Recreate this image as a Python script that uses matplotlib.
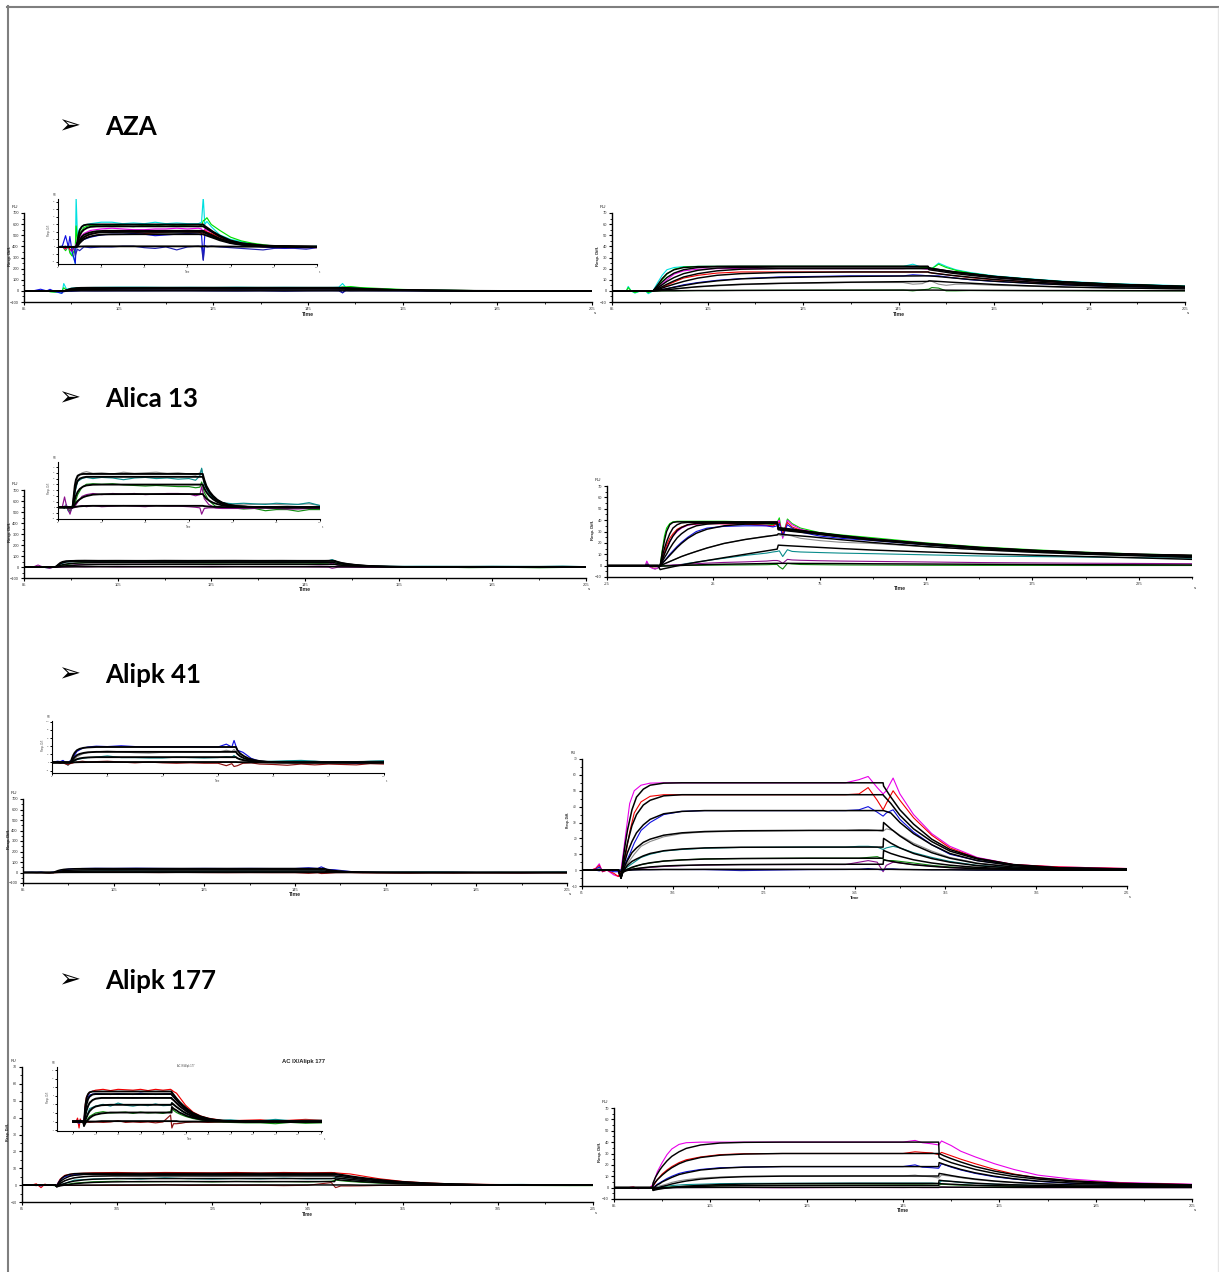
import matplotlib
matplotlib.use("Agg")
import matplotlib.pyplot as plt
from matplotlib.lines import Line2D

W, H = 1219, 1272
CY, GR, MG, RD, BL = '#00e0e0', '#00e000', '#e800e8', '#f00000', '#1010e0'
DB, GY, TL, PU, DG, MR = '#2020b0', '#8c8c8c', '#0a8c8c', '#8c108c', '#108c10', '#8c1010'

headings = ["AZA", "Alica 13", "Alipk 41", "Alipk 177"]
heading_y = [125, 397, 673, 979]
x_tick_labels = ["85", "105", "125", "145", "165", "185", "205"]
x_ticks = [85, 105, 125, 145, 165, 185, 205]
y_ticks_big = [-100, 0, 100, 200, 300, 400, 500, 600, 700]
y_ticks_small = [-10, 0, 10, 20, 30, 40, 50, 60, 70]
x_ticks_r2 = [-25, 25, 75, 125, 175, 225]

# ---- AZA, left
t_aza_l = [85,93.5,94,94.5,95,96,97,98.5,100,103,107,120,140,152.3,153,155,157,160,165,170,180,195,205]
fit_aza_l = [
 [0,0,8,16,22,27,29,29.8,30,30,30,30,30,30,28,24,20,15,8.5,5,1.8,.5,.2],
 [0,0,5,10,15,20,23,25.5,26.8,27.4,27.5,27.5,27.5,27.5,26,22.5,19,14,8,4.7,1.7,.5,.2],
 [0,0,3,6,9,13.5,16,18,19.5,21,21.5,21.5,21.5,21.5,20,17.5,15,11,6.3,3.7,1.3,.4,.2],
 [0,0,2,4.5,7,10.5,13,15.5,17,19,19.8,20,20,20,18.8,16.5,14,10.3,5.8,3.4,1.2,.4,.2],
 [0,0,1.5,3,5,8,10.5,12.5,14,15.8,16.7,17,17,17,16,14,12,8.8,5,2.9,1,.3,.1],
 [0,0,.2,.4,.5,.6,.7,.8,.8,.8,.8,.8,.8,.8,.8,.7,.7,.6,.5,.4,.3,.2,.1],
]
tn_aza_l = [85,87,88.5,89.8,90.5,91.5,92.3,93,93.4,94,95,97,100,105,110,115,120,125,130,135,140,145,150,151.5,152.3,153,154,156,160,165,170,175,180,185,190,195,200,205]
raw_aza_l = [
 (CY,[0,0,-3,3,-6,-10,-15,-22,66,14,24,29,31,33,33,31,32,31,33,31,32,31,31,33,66,30,34,27,16,10,7,4,1,0,-1,0,0,1]),
 (GR,[0,1,-5,1,-8,-12,-6,-3,28,8,18,26,29,28,29,28,27,29,28,30,28,29,30,28,35,36,39,30,22,13,8,5,3,1,0,0,-1,0]),
 (MG,[0,0,-3,1,-4,-6,-2,-1,4,6,12,18,22,24,25,24,23,23,24,24,25,24,25,24,20,24,22,20,14,7,5,3,1,0,-1,-1,0,0]),
 (RD,[0,0,-2,2,-3,-5,-1,0,2,4,8,13,17,20,21,21,20,18,19,20,21,20,20,18,16,22,20,18,13,6,4,2,0,-1,-2,-1,-1,-1]),
 (BL,[0,1,15,0,14,-6,-14,-22,2,3,6,10,13,16,17,17,18,17,15,16,17,18,17,16,-17,16,16,14,10,5,3,1,0,-1,-2,-1,-1,0]),
 (DB,[0,0,1,-1,1,-2,0,-12,-8,-3,-5,0,-1,0,0,1,1,-1,-2,0,-4,0,1,0,-18,2,0,1,0,-1,-2,-3,-4,-2,-1,-2,-3,-1]),
]

# ---- AZA, right
t_aza_r = [85,93,93.6,94.5,95.5,96.5,98,100,103,107,112,120,135,151.2,151.4,153,156,160,165,172,180,190,205]
fit_aza_r = [
 [0,0,0,5,11,15.5,19,21,21.8,22,22,22,22,22,20.5,19.5,17.5,15.5,13,10.5,8,6,4],
 [0,0,0,3.5,8,12,16,19,21,21.8,22,22,22,22,20.5,19.5,17.5,15.5,13,10.5,8,6,4],
 [0,0,0,2.5,5.5,8.5,12,15.5,18.5,20.5,21,21.5,21.5,21.5,20,19,17,15,12.5,10,7.8,5.8,3.8],
 [0,0,0,1.7,3.8,6,9,12.5,15.5,18,19.5,20,20,20,19,18,16,14,11.8,9.5,7.3,5.5,3.6],
 [0,0,0,1,2.5,4,6,8.5,11.5,14,15.5,16.5,17,17,16.5,15.5,14,12.3,10.3,8.2,6.3,4.8,3.2],
 [0,0,0,.5,1.2,2,3.2,4.8,7,9,10.8,12,13,13.5,13.5,13,11.8,10.3,8.7,7,5.4,4,2.7],
 [0,0,0,.2,.6,1,1.7,2.6,3.8,4.9,5.9,6.8,7.8,8.5,9,8.6,7.8,6.9,5.8,4.6,3.5,2.7,1.8],
 [0,0,0,0,.1,.1,.1,.2,.3,.3,.4,.5,.6,.7,.7,.7,.6,.5,.4,.3,.3,.2,.1],
]
tn_aza_r = [85,88,88.4,89,89.8,91,92,92.6,93.6,94.5,95.5,96.5,98,100,103,107,112,120,135,146,148,150,151.3,152,153.4,155,157,160,165,172,180,190,205]
raw_aza_r = [
 (CY,[0,0,4,0,-2,0,0,-2.5,0,7,14,19,21,21.8,22,22,22,22,22,22,24,21,21,20,25,22,19,16.5,13.5,11,8.5,6.5,4.5]),
 (GR,[0,0,3,0,-1.5,0,0,-1.5,0,4,10,15,19.5,21.5,22,22,22,22,22,22,22,21,21,20,24,21,18.5,16,13,10.5,8,6,4]),
 (MG,[0,0,.5,0,0,0,0,0,0,2.5,6,10,15,18,19.5,20,20,20,20,20,20.5,20,19.5,19,19,18,16.5,14.5,12,9.5,7.5,5.5,3.6]),
 (RD,[0,0,0,0,0,0,0,0,0,1.2,3,5,8,11.5,14,16,17,17,17,17,17,17,17,16,15.5,14.5,13.5,12,10,8,6.2,4.7,3.2]),
 (BL,[0,0,0,0,0,0,0,0,0,.5,1.2,2,3.5,5.5,7.5,9.5,11,12.5,13.5,13.5,14.5,14,13.5,13.5,13.5,12.5,11.5,10,8.5,7,5.4,4,2.7]),
 (GY,[0,0,0,0,0,0,0,0,0,.2,.5,1,1.5,2.5,3.5,4.5,5.5,6.5,7.5,7.5,6,6.5,9,8.5,6,5,6,6,5,4.2,3.2,2.5,1.7]),
 (DG,[0,0,0,0,0,0,0,0,0,0,0,.1,.1,.2,.3,.3,.4,.5,.6,.7,0,1,1.5,3,2.5,0,0,.3,.3,.3,.2,.1,.1]),
]

# ---- Alica 13, left
t_ali_l = [85,91.7,92.2,92.7,93.2,94,95,96.5,98,101,105,120,140,151.3,152,153,154.5,156,158,160,163,167,172,180,205]
fit_ali_l = [
 [0,0,20,38,48,55,57,58,58,58,58,58,58,58,48,37,27,20,13,8.5,4.5,2,.7,.2,0],
 [0,0,15,28,38,46,50,52,53,53,53,53,53,53,44,34,25,18,12,8,4,1.8,.6,.2,0],
 [0,0,7,14,20,27,32,36,38,39.3,39.5,39.5,39.5,39.5,33,26,19,14,9,6,3,1.4,.5,.1,0],
 [0,0,2.5,5,7.5,11,14,17.5,19.5,22,22.8,23,23,23,19.5,15,11,8,5.5,3.6,1.8,.8,.3,.1,0],
 [0,0,.3,.6,.9,1.3,1.7,2.1,2.3,2.5,2.5,2.5,2.5,2.5,2,1.6,1.2,.9,.6,.4,.2,.1,0,0,0],
]
tn_ali_l = [85,87,88,88.8,89.6,90.5,91.2,92.2,93,94,96,98,101,105,110,115,120,125,130,135,140,145,148,150,150.8,152,154,157,160,165,170,175,180,185,190,195,200,205]
raw_ali_l = [
 (GY,[0,0,1,0,-1,-4,-2,14,38,52,60,62,59,60,58,61,59,60,61,59,60,58,56,60,66,42,28,14,8,5,4,5,6,5,4,5,6,3]),
 (TL,[0,0,-2,5,-6,-9,-3,10,30,45,50,52,50,52,51,48,51,52,50,51,49,50,47,55,68,40,24,12,8,6,7,6,5,7,6,5,8,3]),
 (DG,[0,0,-1,1,-4,-6,-2,2,10,22,35,40,41,40,41,39,38,37,38,37,36,36,34,35,44,26,12,2,0,-1,-3,-2,-6,-4,-4,-7,-4,-4]),
 (PU,[0,1,18,4,-4,-12,-2,0,3,9,19,22,24,22,24,23,24,22,23,24,24,23,20,22,36,15,5,-1,-2,-2,-2,-2,-1,-2,-3,-3,-2,-2]),
 (PU,[0,0,2,1,-1,-3,-1,-1,0,1,3,1,3,1,2,3,2,1,3,2,2,1,0,-1,-12,-2,-1,-1,-2,-2,-2,-1,-1,-2,-2,-1,-2,-2]),
]

# ---- Alica 13, right
t_ali_r = [-25,-1,0,1,2,3,4.5,6,8,10,13,17,22,30,40,55,55.5,60,70,85,100,125,150,175,200,225,250]
fit_ali_r = [
 [0,0,0,12,22,30,36,38,38.5,38.5,38.5,38.5,38.5,38.5,38.5,38.5,33.4,32.5,30,26.5,23.5,19.5,16,13.5,11.5,10,9],
 [0,0,0,8,15,21,28,33,36,37.5,38,38,38,38,38,38,33,32,29.8,26.2,23.2,19.2,15.8,13.3,11.3,9.8,8.8],
 [0,0,0,5,10,14.5,21,26,31,33.5,36,37,37.5,37.5,37.5,37.5,32.5,31.5,29.5,26,23,19,15.6,13.1,11.1,9.6,8.6],
 [0,0,0,3.5,7,10,15,19.5,24.5,28,32,35,36.5,37.5,37.5,37.5,32,31,29,25.5,22.7,18.7,15.3,12.9,10.9,9.4,8.4],
 [0,0,0,2,4,6,9,12,16,19.5,24,28.5,32,35,36.5,37,31.5,30.5,28.5,25.2,22.3,18.4,15,12.6,10.7,9.2,8.2],
 [0,0,0,.8,1.6,2.4,3.6,4.8,6.4,8,10,12.5,15.5,19.5,23,27,28,27,25.5,22.8,20.3,16.8,14,11.8,10,8.6,7.2],
 [0,0,-3.5,-3,-2.6,-2.2,-1.6,-1,-.2,.5,1.6,3,4.5,7,10,14.5,18,17.5,16.5,15,13.7,12,10.5,9.2,8,6.8,5.5],
 [0,0,-.5,-.4,-.4,-.3,-.2,0,.1,.2,.4,.6,.9,1.2,1.5,2,2,2,1.9,1.8,1.6,1.4,1.2,1,.8,.7,.6],
]
tn_ali_r = [-25,-10,-7,-6.3,-5,-3.5,-2.4,-1,0,1,2,3,4.5,6,8,10,13,17,22,30,40,50,53,55,56,57.6,59.8,62,66,75,85,100,125,150,175,200,225,250]
raw_ali_r = [
 (GR,[0,0,0,3,-1,-2,-3,-2,0,14,26,33,37,38.5,39,39,39,39,39,39,38.5,37,36,38,42,25,41,37,33,29,27,24.5,20,16.5,14,11.8,10.2,9.2]),
 (MG,[0,0,0,4,-1,-2.5,-3,-2,0,6,11,16,21,26,30,33,35.5,36.5,37,36.8,36.5,35,34.5,38,40,24,40,36,32,28,26,23.5,19.5,16,13.5,11.5,10,9]),
 (RD,[0,0,0,1,-.5,-1,-1,-.5,0,5,11,18,24,28,32,34,36,36.8,37,36.8,36.5,35.5,35,37,38,28,38,34,31,27.5,25.5,23,19,15.6,13.2,11.2,9.8,8.8]),
 (BL,[0,0,0,1,0,-.5,-.5,0,0,2,4,6.5,10,13,17,20.5,25,30,33,34.5,35,35,34,35,37,26,36,33,29.5,26,24,22,18.3,15,12.6,10.7,9.2,8.2]),
 (GY,[0,0,0,0,0,0,0,0,0,.8,1.6,2.4,3.6,4.8,6.4,8,10,12.5,15.5,19.5,23,26,26.5,27,27,26,27,26,24,22,20.5,19.5,16.5,14,11.8,10,8.6,7.2]),
 (TL,[0,0,0,0,0,0,0,0,0,0,0,0,0,.2,.5,1,2,3,4.5,6.5,9,11,12,12.5,13,8,14,12.5,12,11.5,11,10.5,9.5,8.5,8,7.5,7,6.5]),
 (PU,[0,0,0,.5,0,-.5,-1,-1,-.5,0,.2,.3,.4,.6,.8,1,1.3,1.7,2.2,2.8,3.3,4,4.5,4.5,4,2,5.5,5,4.7,4.3,4,3.7,3.2,2.7,2.4,2.1,1.9,1.7]),
 (DG,[0,0,0,0,0,0,0,0,0,0,0,0,0,0,.1,.1,.2,.3,.4,.5,.6,.8,1,1,-1,-3,2,1.5,1,.8,.6,.5,.3,.2,.2,.1,.1,.1]),
]

# ---- Alipk 41, left
t_a41_l = [85,91.7,92.2,92.7,93.2,94,95,96.5,98,101,105,120,140,151.5,152,153,154.5,156,158,160,163,167,172,180,205]
fit_a41_l = [
 [0,0,10,18,24,30,33.5,36,37,38,38,38,38,38,30,22,15,10,6,3.5,1.5,.5,.1,0,0],
 [0,0,5,9,13,18,21,23.5,25,26,26,26,26,26,21,15,10,7,4,2.4,1,.3,.1,0,0],
 [0,0,2,4,5.5,8,10,11.5,12.3,13,13,13,13,13,10.5,7.5,5,3.5,2,1.2,.5,.2,0,0,0],
 [0,0,.1,.2,.3,.5,.7,.8,.9,1,1,1,1,1,.8,.6,.4,.3,.2,.1,0,0,0,0,0],
]
tn_a41_l = [85,87,88,89,90,90.8,91.5,92.3,93,94,96,98,101,105,110,115,120,125,130,135,140,145,148,150,150.8,152,154,157,160,165,170,175,180,185,190,195,200,205]
raw_a41_l = [
 (BL,[0,3,2,5,-1,-2,4,3,16,27,35,38,40,39,41,39,38,39,38,39,38,38,45,38,54,30,25,10,3,1,1,2,2,0,0,-2,0,1]),
 (GY,[0,0,0,0,0,0,0,0,7,14,21,24,26,28,26,24,23,25,26,25,26,25,30,27,32,22,16,6,2,1,3,2,3,0,1,2,3,4]),
 (TL,[0,1,0,1,-3,-7,1,0,3,7,10,12,13,16,12,12,11,11,13,12,11,12,14,13,17,10,7,3,2,3,4,5,3,1,2,1,3,4]),
 (MR,[0,0,-2,-1,-4,-6,-3,-2,0,1,3,1,2,3,1,-1,1,-1,-2,-1,-2,-2,-8,-3,-10,-8,-2,-1,-4,-5,-7,-4,-6,-4,-5,-6,-3,-4]),
]

# ---- Alipk 41, right
t_a41_r = [85,93,93.6,94,94.5,95,96,97,98.5,100,103,107,112,120,135,151.3,151.4,153,155,158,162,166,172,180,190,205]
fit_a41_r = [
 [0,0,-5,6,16,25,38,46,51,53.5,54.8,55,55,55,55,55,53,46,38,29,19.5,13,7.5,3.5,1.5,.7],
 [0,0,-5,3,10,17,28,35,41,44,46.8,47.5,47.5,47.5,47.5,47.5,47,42,34.5,26,18,12,7,3.2,1.3,.6],
 [0,0,-5,1,6,11,18,23.5,28.5,32,35.5,37,37.5,37.5,37.5,37.5,37.5,36,30,23,16,10.5,6,2.8,1.2,.5],
 [0,0,-5,-.5,3,6,11,14,17.5,19.5,22,23.5,24.3,24.8,25,25,30,26,21.5,16,11,7.5,4.2,2,.9,.4],
 [0,0,-5,-1,1,3,5.5,7,9,10.5,12.2,13.3,14,14.4,14.5,14.5,20,17,14,10.5,7.3,5,2.8,1.3,.6,.3],
 [0,0,-4,-1.5,-.5,.5,1.8,2.7,3.8,4.6,5.7,6.4,7,7.3,7.5,7.5,12.4,10.5,8.7,6.5,4.5,3.1,1.7,.8,.4,.2],
 [0,0,-3,-1.2,-.6,-.2,.5,1,1.5,2,2.6,3,3.3,3.5,3.7,3.7,6.5,5.6,4.6,3.4,2.4,1.6,.9,.4,.2,.1],
 [0,0,-1,-.4,-.2,0,.1,.2,.3,.3,.4,.4,.5,.5,.5,.5,.5,.5,.4,.3,.2,.2,.1,.1,0,0],
]
tn_a41_r = [85,87,88,88.8,89.5,90.5,92,93,93.6,94.5,95.5,96.5,98,100,103,107,112,120,135,143,146,148,150,151.3,152,153.5,155,158,162,166,172,180,190,205]
raw_a41_r = [
 (MG,[0,0,1,4,-1,0,-3,-4,0,20,42,50,53.5,54.8,55,55,55,55,55,55,57,59,52,48,50,58,48,35,23,15,8,3.5,2,1]),
 (RD,[0,0,1,3,-1,0,-2,-4,0,8,24,36,43,46.5,47.5,47.5,47.5,47.5,47.5,47.5,48,52,44,38,42,50,44,33,22,14,7.5,3.5,2,1]),
 (BL,[0,0,.5,2,-.5,0,-1,-1,0,4,10,17,25,30,35,37,37.5,37.5,37.5,37.5,38,40,36.5,34,36,38,32,24,16,10,6,3,1.5,.8]),
 (GY,[0,0,0,1,0,0,0,0,0,2,6,10,15,18,21,23,24,24.5,25,25,25.5,25.5,25,24.5,26,25,22,17,12,8,4.5,2.2,1,.7]),
 (TL,[0,0,0,.5,0,0,0,0,0,1,3,5,8,10,12,13,13.8,14.3,14.5,14.5,15,15,14.5,13,14,15,14,11,8,5.5,3,1.5,.8,.5]),
 (DG,[0,0,0,0,0,0,0,0,0,.3,1,2,3.5,4.5,5.7,6.5,7,7.3,7.5,7.5,7.5,8,8.5,7,6,6,5.5,4.5,3,2,1.2,.6,.3,.2]),
 (PU,[0,0,0,0,0,0,0,0,0,0,.4,.8,1.2,1.7,2.3,2.8,3.2,3.5,3.5,3.5,5,6,5,-1,3,5,4.5,3.5,2.5,1.6,1,.5,.2,.1]),
 (DB,[0,0,0,-.5,0,0,0,0,0,0,0,.2,.3,.3,.4,.4,.3,-.3,.3,.4,.5,1,.5,0,.8,.8,.5,.4,.3,.3,0,0,0,0]),
]

# ---- Alipk 177, left
t_a177_l = [85,92,92.3,92.8,93.3,94,95,96,98,100,104,110,125,150.7,150.9,152,154,156,158,161,165,170,176,185,205,251]
fit_a177_l = [
 [0,0,-.5,2,4,5.5,6.4,6.8,7,7,7,7,7,7,6.8,6.3,5.4,4.6,3.9,3,2,1.2,.6,.15,0,0],
 [0,0,-.7,1,2.7,4,5.2,5.8,6.3,6.4,6.4,6.4,6.4,6.4,6.2,5.8,5,4.2,3.6,2.7,1.8,1.1,.5,.1,0,0],
 [0,0,-.8,.3,1.5,2.6,3.6,4.3,5,5.3,5.5,5.5,5.5,5.5,5.3,5,4.3,3.6,3.1,2.3,1.5,.9,.4,.1,0,0],
 [0,0,-1,-.3,.4,1,1.8,2.4,3.1,3.5,3.8,3.9,3.9,3.9,4.3,4,3.4,2.9,2.4,1.8,1.2,.7,.3,.1,0,0],
 [0,0,-1,-.6,-.3,0,.4,.8,1.3,1.6,1.9,2.1,2.1,2.1,3.4,3,2.6,2.1,1.8,1.3,.9,.5,.2,.1,0,0],
 [0,0,-.1,-.1,0,0,0,0,0,0,.1,.1,.1,.1,.1,.1,.1,0,0,0,0,0,0,0,0,0],
]
tn_a177_l = [85,87,88,89,89.8,90.5,91,92.3,93,94,96,100,105,110,115,120,125,130,135,140,145,150,150.9,152,154,157,160,165,170,175,180,190,200,210,220,230,240,251]
raw_a177_l = [
 (RD,[0,0,.8,-1.5,.6,0,0,0,3.5,5.8,6.8,7.3,7.5,7.2,7.5,7.4,7.3,7.5,7.2,7.5,7.3,7.5,7.3,7,6.6,5.2,3.8,2.2,1.3,.8,.5,.2,.3,.4,.1,.3,.5,.3]),
 (BL,[0,0,.3,-.5,.3,0,0,0,3,5,6.2,6.5,6.4,6.3,6.5,6.4,6.3,6.6,6.4,6.3,6.4,6.5,6.2,5.8,5,3.8,2.9,1.6,.8,.3,0,0,-.2,0,.1,-.1,0,.1]),
 (GY,[0,0,0,-.3,0,0,0,0,1,2.6,4.5,5.4,5.5,5.5,5.6,5.5,5.4,5.5,5.6,5.5,5.5,5.5,5.3,5,4.3,3.2,2.5,1.5,.9,.4,.1,0,0,0,0,0,0,0]),
 (TL,[0,0,.2,-.2,0,0,0,-.3,.2,1,3,3.6,4,3.6,4.3,3.8,3.6,3.9,3.7,4.1,3.7,3.8,4.4,3.9,3.4,2.6,1.9,1.2,.9,.7,.3,.4,.1,.2,.5,.2,.3,.3]),
 (DG,[0,0,-.2,-.2,0,0,0,-.5,-.2,.2,1.2,2,2.3,2,2.1,2.2,1.9,2.2,2,2.1,1.9,2.3,3,2.6,2.1,1.6,1.2,.7,.4,-.1,-.1,-.2,-.3,-.3,-.5,-.2,-.4,-.3]),
 (MR,[0,0,-.3,.3,-.2,0,0,-.2,0,-.1,-.2,-.1,-.2,-.1,.2,-.2,-.1,-.2,-.1,-.3,-.1,1.5,-1.5,-.5,-.5,-.4,-.2,-.1,-.1,-.2,-.1,0,-.1,0,-.1,0,-.1,0]),
]

# ---- Alipk 177, right
t_a177_r = [85,93,93.1,93.6,94,94.5,95,96,97,98.5,100,103,107,112,120,135,152.4,152.5,153.5,155,157,160,164,168,173,180,190,205]
fit_a177_r = [
 [0,0,4,9,12,15.5,18.5,23.5,27.5,31.5,34.5,37.5,39.2,39.8,40,40,40,30,28,25.5,22.5,18.5,14.5,11.5,8.7,6,3.8,2.5],
 [0,0,2,5,7,9,11,14.5,17.5,21,23.5,26.5,28.5,29.5,30,30,30,26.5,24.5,22,19.5,16,12.5,9.8,7.5,5.2,3.4,2.3],
 [0,0,-1,1,2.5,3.5,5,7,9,11.5,13,15.5,17,18,18.5,18.5,18.5,22,20.5,18.5,16,13,10,7.8,5.8,4,2.7,2],
 [0,0,-2,-1,-.5,.3,1,2,3.2,4.6,5.8,7.5,8.8,9.6,10.1,10.2,10.2,12.5,11.8,10.6,9.2,7.5,5.8,4.6,3.5,2.5,1.9,1.5],
 [0,0,-2.5,-2,-1.6,-1.2,-.9,-.3,.2,.8,1.3,2,2.7,3.1,3.5,3.7,3.7,6.5,6,5.5,4.8,3.9,3.1,2.5,2,1.5,1.1,.9],
 [0,0,-1.5,-1.2,-1,-.8,-.6,-.2,.1,.4,.7,1.1,1.5,1.7,1.9,2,2,3.5,3.3,3,2.6,2.1,1.7,1.4,1.1,.8,.6,.5],
 [0,0,-.5,-.4,-.3,-.2,-.1,0,0,.1,.1,.2,.2,.3,.3,.3,.3,.5,.5,.4,.4,.3,.3,.2,.2,.2,.1,.1],
]
tn_a177_r = [85,87,88,89,90,91,92.5,93.1,94,95,96,97,98.5,100,103,107,112,120,135,145,147.5,149,151,152.4,153,155,157,160,164,168,173,180,190,205]
raw_a177_r = [
 (MG,[0,0,0,.5,-1,0,0,3,14,22,29,34,38,39.5,40,40,40,40,40,40,41.5,39.5,38.5,37.5,41,37,32,27,21,16,11,7.5,4.5,3]),
 (RD,[0,0,0,.5,-.5,0,0,1,7,12,15.5,18.5,22,24.5,27,29,29.8,30,30,30,31.5,31,30.5,29,31,28,25,21,16,12,8.5,6,4,2.7]),
 (BL,[0,0,0,0,0,0,0,0,3,5.5,8,10,12.5,14,16,17.5,18,18.5,18.5,18.5,20,18,17.5,17,21,18,15.5,12.5,9.5,7.5,5.5,3.8,2.5,2]),
 (GY,[0,0,0,0,0,0,0,0,1,2,3.2,4.6,6,7,8.5,9.3,10,10.2,10.3,10.3,11,10,9.5,8.5,11,10,8.7,7,5.5,4.3,3.3,2.4,1.8,1.4]),
 (TL,[0,0,0,0,0,0,0,0,.2,.7,1.3,1.8,2.3,2.7,3,3.5,3.7,3.8,4,4,4,4,4,3.5,6,5.5,4.5,3.7,3,2.4,1.9,1.4,1,.8]),
 (DG,[0,0,0,0,0,0,0,0,0,.1,.3,.6,.9,1.2,1.5,1.8,2,2.1,2.2,2.4,2.4,2.4,2.2,2,3,2.5,2.2,1.8,1.5,1.2,1,.7,.5,.4]),
 (PU,[0,0,0,-.5,-.5,0,0,0,0,0,0,.1,0,.1,0,.1,0,-.2,.1,0,.1,0,0,0,.3,.2,.2,.1,.1,.1,0,0,0,0]),
]

plt.rcParams['font.family'] = ['Liberation Sans', 'DejaVu Sans']
fig = plt.figure(figsize=(W / 100, H / 100), dpi=100, facecolor='white')


def fx(px):
    return px / W


def fy(py):
    return 1 - py / H


def axes_px(left, right, top, bottom):
    ax = fig.add_axes([fx(left), fy(bottom), (right - left) / W, (bottom - top) / H])
    ax.patch.set_alpha(0)
    for s in ('top', 'right'):
        ax.spines[s].set_visible(False)
    return ax


def draw_traces(ax, t, fits, tn, raws, lw_raw, lw_fit):
    for col, y in raws:
        ax.plot(tn, y, color=col, lw=lw_raw, solid_joinstyle='round')
    for y in fits:
        ax.plot(t, y, color='black', lw=lw_fit, solid_joinstyle='round')


def main_panel(box, t, fits, tn, raws, yticks, xticks=x_ticks, xlabels=x_tick_labels,
               xlim=(85, 205), ylabel='Resp. Diff.', lw_fit=1.05, tick_fs=2.9, label_fs=3.7):
    left, right, top, bottom = box
    ax = axes_px(left, right, top, bottom)
    draw_traces(ax, t, fits, tn, raws, 0.8, lw_fit)
    ax.set_xlim(*xlim)
    ax.set_ylim(yticks[0], yticks[-1])
    ax.set_xticks(xticks)
    ax.set_xticklabels(xlabels)
    step = xticks[1] - xticks[0]
    ax.set_xticks([v + step / 2 for v in xticks if v + step / 2 <= xlim[1]], minor=True)
    ax.set_yticks(yticks)
    ax.set_yticks([(a + b) / 2 for a, b in zip(yticks[:-1], yticks[1:])], minor=True)
    ax.tick_params(axis='both', which='major', length=2.2, width=0.8, labelsize=tick_fs, pad=1.5, labelcolor='#333333')
    ax.tick_params(axis='both', which='minor', length=1.4, width=0.6)
    for s in ('left', 'bottom'):
        ax.spines[s].set_linewidth(1.0)
    fig.text(fx((left + right) / 2), fy(bottom + 12), 'Time', fontsize=label_fs, fontweight='bold', ha='center', va='center', color='#222222')
    fig.text(fx(left - 14), fy((top + bottom) / 2 - 2), ylabel, fontsize=label_fs - 0.7, fontweight='bold', rotation=90, ha='center', va='center', color='#222222')
    fig.text(fx(left - 9), fy(top - 6), 'RU', fontsize=tick_fs + 0.3, ha='center', va='center', color='#222222')
    fig.text(fx(right + 3), fy(bottom + 11), 's', fontsize=tick_fs + 0.3, ha='center', va='center', color='#222222')
    return ax


def inset_panel(box, t, fits, tn, raws, ylim, yticks, xlim=(85, 205), xticks=x_ticks, lw_fit=1.35):
    left, right, top, bottom = box
    ax = axes_px(left, right, top, bottom)
    draw_traces(ax, t, fits, tn, raws, 0.85, lw_fit)
    ax.set_xlim(*xlim)
    ax.set_ylim(*ylim)
    ax.set_xticks(xticks)
    ax.set_xticklabels([str(v) for v in xticks])
    ax.set_yticks(yticks)
    ax.set_yticklabels([str(v) for v in yticks])
    ax.tick_params(axis='both', which='major', length=1.6, width=0.7, labelsize=1.5, pad=0.6, labelcolor='#444444')
    for s in ('left', 'bottom'):
        ax.spines[s].set_linewidth(0.8)
    fig.text(fx((left + right) / 2), fy(bottom + 8), 'Time', fontsize=1.8, ha='center', va='center', color='#444444')
    fig.text(fx(left - 9), fy((top + bottom) / 2 - 2), 'Resp. Diff.', fontsize=1.8, rotation=90, ha='center', va='center', color='#444444')
    fig.text(fx(left - 3), fy(top - 4), 'RU', fontsize=1.8, ha='center', va='center', color='#444444')
    fig.text(fx(right + 3), fy(bottom + 8), 's', fontsize=1.8, ha='center', va='center', color='#444444')
    return ax


# page frame: dark top and left rules, faint right rule
fig.add_artist(Line2D([fx(8), fx(8)], [fy(6), fy(1272)], transform=fig.transFigure, color='#7f7f7f', lw=1.5))
fig.add_artist(Line2D([fx(7), fx(1218)], [fy(7), fy(7)], transform=fig.transFigure, color='#7f7f7f', lw=1.5))
fig.add_artist(Line2D([fx(1218), fx(1218)], [fy(8), fy(1272)], transform=fig.transFigure, color='#e6e6e6', lw=1.0))

# headings
for name, y in zip(headings, heading_y):
    fig.text(fx(69), fy(y + 1), '\u27a2', fontsize=19, family='DejaVu Sans', ha='center', va='center', color='black')
    fig.text(fx(105), fy(y + 2), name, fontsize=18.6, family='Lato', fontweight='bold', ha='left', va='center', color='black')

# AZA
main_panel((24, 592, 213, 302), t_aza_l, fit_aza_l, tn_aza_l, raw_aza_l, y_ticks_big)
inset_panel((58, 317, 199, 264), t_aza_l, fit_aza_l, tn_aza_l, raw_aza_l, (-22.8, 64),
            [-20, -10, 0, 10, 20, 30, 40, 50, 60])
main_panel((612, 1185, 213, 302), t_aza_r, fit_aza_r, tn_aza_r, raw_aza_r, y_ticks_small)

# Alica 13
main_panel((24, 586, 490, 578), t_ali_l, fit_ali_l, tn_ali_l, raw_ali_l, y_ticks_big)
inset_panel((58, 320, 462, 519), t_ali_l, fit_ali_l, tn_ali_l, raw_ali_l, (-20.4, 78.8),
            [-20, -10, 0, 10, 20, 30, 40, 50, 60, 70])
main_panel((607, 1192, 486, 577), t_ali_r, fit_ali_r, tn_ali_r, raw_ali_r, y_ticks_small,
           xticks=x_ticks_r2, xlabels=[str(v) for v in x_ticks_r2], xlim=(-25, 250))

# Alipk 41
main_panel((23, 567, 799, 883), t_a41_l, fit_a41_l, tn_a41_l, raw_a41_l, y_ticks_big)
inset_panel((52, 384, 721, 773), t_a41_l, fit_a41_l, tn_a41_l, raw_a41_l, (-26, 102),
            [-20, 0, 20, 40, 60, 80, 100])
main_panel((582, 1127, 759, 886), t_a41_r, fit_a41_r, tn_a41_r, raw_a41_r, y_ticks_small, lw_fit=1.1,
           tick_fs=2.3, label_fs=3.0)

# Alipk 177
main_panel((22, 593, 1067, 1202), t_a177_l, fit_a177_l, tn_a177_l, raw_a177_l, y_ticks_small, tick_fs=2.6, label_fs=3.3)
inset_panel((57, 322, 1067, 1131), t_a177_l, fit_a177_l, tn_a177_l, raw_a177_l, (-2.2, 12.7),
            [-2, 0, 2, 4, 6, 8, 10, 12], xlim=(74.3, 251),
            xticks=[85, 100, 115, 130, 145, 160, 175, 190, 205, 220, 235, 250])
fig.text(fx(303), fy(1061), 'AC IX/Alipk 177', fontsize=4.2, fontweight='bold', ha='center', va='center', color='#222222')
fig.text(fx(186), fy(1066), 'AC IX/Alipk 177', fontsize=1.8, ha='center', va='center', color='#444444')
main_panel((614, 1192, 1108, 1199), t_a177_r, fit_a177_r, tn_a177_r, raw_a177_r, y_ticks_small)

fig.savefig('out.png', dpi=100, facecolor='white')
